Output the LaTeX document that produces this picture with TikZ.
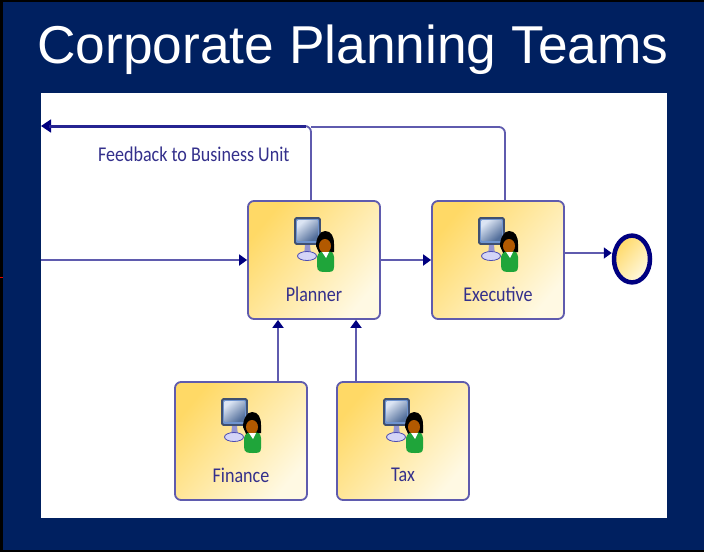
\documentclass[tikz,border=0pt]{standalone}
\usepackage{fontspec}
\setmainfont{Liberation Sans}
\newfontfamily\labelfont{Carlito}
\usepackage{xcolor}
\usepackage{tikz}
\usetikzlibrary{arrows.meta, positioning, calc}
\definecolor{slidenavy}{HTML}{002060}
\definecolor{flowblue}{HTML}{5F5BAE}
\definecolor{tipblue}{HTML}{000080}
\definecolor{labelblue}{HTML}{34308C}
\definecolor{boxgold}{HTML}{FFD966}
\definecolor{boxcream}{HTML}{FFF9E3}
\definecolor{screenblue}{HTML}{6F94CF}
\definecolor{shirtgreen}{HTML}{1FA53A}
\tikzset{
    teambox/.style={draw=flowblue, line width=1.8pt, rounded corners=6pt, minimum width=132pt,
        minimum height=118pt, left color=boxgold, right color=boxcream, shading angle=50},
    teamlabel/.style={text=labelblue, font=\labelfont\fontsize{21}{24}\selectfont, xscale=0.86},
    flowline/.style={draw=flowblue, line width=1.8pt},
    flowarrow/.style={flowline, -{Triangle[length=8pt, width=11pt, color=tipblue]}},
    usericon/.pic={
        % monitor
        \fill[gray!60!blue!60] (-9,-15) -- (-4,-15) -- (-3,-5) -- (-10,-5) -- cycle;
        \draw[fill=gray!30!blue!20, draw=gray!60!blue, line width=0.8pt] (-7,-4) ellipse (9.5pt and 4.5pt);
        \draw[fill=screenblue, draw=slidenavy!50!gray, line width=1.8pt, rounded corners=1.5pt] (-19,-42) rectangle (6,-16);
        \shade[left color=white!75!screenblue, right color=screenblue!75!black, shading angle=40] (-16.5,-39.5) rectangle (3.5,-20);
        % person
        \fill[black] (2,-14) .. controls (2,-22) and (6,-29) .. (11,-29) .. controls (17,-29) and (20,-24) .. (20,-16) -- (20,-8) -- (6,-5) -- cycle;
        \fill[shirtgreen] (3,-3) .. controls (4,-8) and (8,-9) .. (11,-9) .. controls (16,-9) and (20,-8) .. (20,-3) -- (20,7) .. controls (20,12) and (17,12) .. (12,12) .. controls (7,12) and (3,12) .. (3,6) -- cycle;
        \fill[orange!70!black] (11,-14) ellipse (6pt and 7pt);
        \fill[white] (8,-8) -- (12,-2) -- (15,-8) -- cycle;
    }
}

\begin{document}
\begin{tikzpicture}[x=1pt, y=-1pt]
    \useasboundingbox (0,0) rectangle (704,552);

    % Slide background
    \fill[black] (0,0) rectangle (704,552);
    \fill[slidenavy] (3,2) rectangle (704,550);
    \fill[white] (41,93) rectangle (667,518);
    \draw[red!90!black, line width=1pt] (0,277) -- (3,277);
    \node[text=white, font=\fontsize{53.3}{60}\selectfont] (title) at (353,50) {Corporate Planning Teams};

    % Team boxes
    \node[teambox] (planner) at (314,260) {};
    \node[teambox] (executive) at (498,260) {};
    \node[teambox] (finance) at (241,441) {};
    \node[teambox] (tax) at (403,441) {};

    % Icons and names
    \foreach \team/\teamname in {planner/Planner, executive/Executive, finance/Finance, tax/Tax} {
        \pic at (\team) {usericon};
        \node[teamlabel] (\team label) at ($(\team)+(0,34)$) {\teamname};
    }

    % End event
    \node[draw=tipblue, line width=4.5pt, circle, minimum size=36pt, inner sep=0pt, yscale=1.3,
        left color=boxgold, right color=boxcream, shading angle=50] (end) at (632,259) {};

    % Free ends at the edge of the panel
    \coordinate (start) at (41,260);
    \coordinate (feedback) at (41,126);
    \coordinate (join) at (311,127);

    % Flow
    \draw[flowarrow] (start) -- (planner);
    \draw[flowarrow] (planner) -- (executive);
    \draw[flowarrow] ($(executive.east)+(0,-7)$) -- ($(end.west)+(0,-6)$);
    \draw[flowarrow] ($(finance.north)+(37,0)$) -- ($(planner.south)+(-36,0)$);
    \draw[flowarrow] ($(tax.north)+(-47,0)$) -- ($(planner.south)+(42,0)$);

    % Feedback
    \draw[flowline, rounded corners=6pt] ($(executive.north)+(7,0)$) |- (join);
    \draw[flowline, rounded corners=6pt, -{Triangle[length=10pt, width=13pt, color=tipblue]}]
        ($(planner.north)+(-3,0)$) |- (feedback);
    \draw[tipblue!60!flowblue, line width=3pt] ($(feedback)+(8,0)$) -- (306,126);
    \node[teamlabel, anchor=west] (feedback label) at (95,154) {Feedback to Business Unit};
\end{tikzpicture}
\end{document}
